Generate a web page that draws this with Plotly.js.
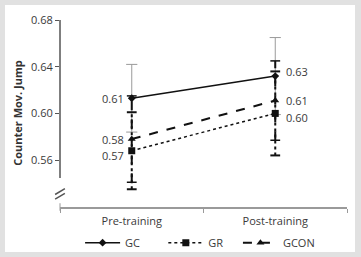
<!DOCTYPE html>
<html>
<head>
<meta charset="utf-8">
<script src="https://cdn.plot.ly/plotly-3.0.1.min.js"></script>
<style>
  html, body { margin: 0; padding: 0; background: #e1e1e1; width: 361px; height: 257px; overflow: hidden; }
  #frame { position: absolute; left: 5px; top: 5px; width: 350px; height: 247px; background: #ffffff; }
  #chart { width: 350px; height: 247px; }
</style>
</head>
<body>
<div id="frame"><div id="chart"></div></div>
<script>
// Counter movement jump, group means and SDs before and after training
const phases = ['Pre-training', 'Post-training'];

const gcMean   = [0.613, 0.632];
const gcSd     = [0.029, 0.033];
const grMean   = [0.568, 0.600];
const grSd     = [0.033, 0.036];
const gconMean = [0.578, 0.611];
const gconSd   = [0.037, 0.034];

const yTicks = [0.56, 0.60, 0.64, 0.68];

const FONT = 'Open Sans, Noto Sans, sans-serif';
const TXT = '#3a3a3a';

// vertical SD whiskers as one broken line per series
function whisker(mean, sd, color, width, dash) {
  const x = [], y = [];
  phases.forEach((p, i) => { x.push(p, p, null); y.push(mean[i] - sd[i], mean[i] + sd[i], null); });
  return { x, y, mode: 'lines', line: { color, width, dash }, hoverinfo: 'skip', showlegend: false };
}
function caps(mean, sd, color, size, width) {
  const x = [], y = [];
  phases.forEach((p, i) => { x.push(p, p); y.push(mean[i] - sd[i], mean[i] + sd[i]); });
  return { x, y, mode: 'markers', marker: { symbol: 'line-ew', size, color, line: { color, width } },
           hoverinfo: 'skip', showlegend: false };
}
function series(name, mean, dash, width, symbol, msize, legendId) {
  return { x: phases, y: mean, name, mode: 'lines+markers',
           line: { color: '#111111', width, dash },
           marker: { symbol, size: msize, color: '#111111' },
           legend: legendId };
}
// value labels: left of the pre-training point, right of the post-training point
function valueLabels(mean, yshift) {
  return phases.map((p, i) => ({
    x: p, y: mean[i], xref: 'x', yref: 'y', showarrow: false,
    text: mean[i].toFixed(2),
    xanchor: i === 0 ? 'right' : 'left',
    xshift: i === 0 ? -6 : 9, yshift: yshift[i],
    font: { family: FONT, size: 11, color: TXT }
  }));
}

const data = [
  whisker(gcMean, gcSd, '#9a9a9a', 1, 'solid'),
  caps(gcMean, gcSd, '#9a9a9a', 8, 1),
  whisker(grMean, grSd, '#111111', 2, 'dot'),
  caps(grMean, grSd, '#111111', 7, 2),
  whisker(gconMean, gconSd, '#111111', 2, 'dash'),
  caps(gconMean, gconSd, '#111111', 7, 1.5),
  series('GC', gcMean, 'solid', 1.6, 'diamond', 6, 'legend'),
  series('GR', grMean, 'dot', 1.5, 'square', 7, 'legend2'),
  series('GCON', gconMean, 'dash', 2, 'triangle-up', 7, 'legend3')
];

const legendBase = { orientation: 'h', yanchor: 'middle', y: -0.19, xanchor: 'left', itemwidth: 35,
                     font: { family: FONT, size: 11, color: TXT }, bgcolor: 'rgba(0,0,0,0)' };

const layout = {
  width: 350, height: 247,
  margin: { l: 55, r: 8, t: 14, b: 45, autoexpand: false },
  paper_bgcolor: '#ffffff', plot_bgcolor: '#ffffff',
  font: { family: FONT, size: 11, color: TXT },
  xaxis: {
    type: 'category', range: [-0.5, 1.5], showgrid: false, zeroline: false,
    showline: true, linecolor: '#9a9a9a', linewidth: 2,
    ticks: 'outside', tickson: 'boundaries', ticklen: 4, tickcolor: '#9a9a9a', tickwidth: 1,
    ticklabelstandoff: 3,
    tickfont: { family: FONT, size: 11, color: TXT }
  },
  yaxis: {
    range: [0.5198, 0.6809], showgrid: false, zeroline: false, showline: false,
    tickvals: yTicks, tickformat: '.2f',
    ticks: 'outside', ticklen: 4, tickcolor: '#555555', tickwidth: 1,
    tickfont: { family: FONT, size: 11, color: TXT },
    title: { text: '<b>Counter Mov. Jump</b>', font: { family: FONT, size: 11, color: '#333333' }, standoff: 6 }
  },
  annotations: [].concat(
    valueLabels(gcMean, [0, 5]),
    valueLabels(grMean, [-5, -4]),
    valueLabels(gconMean, [0, 0])
  ),
  shapes: [
    // broken y axis
    { type: 'line', xref: 'paper', yref: 'y', x0: 0, x1: 0, y0: 0.5447, y1: 0.68,
      line: { color: '#555555', width: 1.5 } },
    { type: 'line', xref: 'paper', yref: 'y', x0: -0.017, x1: 0.017, y0: 0.5305, y1: 0.5355,
      line: { color: '#555555', width: 1.5 } },
    { type: 'line', xref: 'paper', yref: 'y', x0: -0.017, x1: 0.017, y0: 0.5265, y1: 0.5315,
      line: { color: '#555555', width: 1.5 } },
    { type: 'line', xref: 'paper', yref: 'paper', x0: 0, x1: 0, y0: -0.02, y1: 0.02,
      line: { color: '#9a9a9a', width: 1 } }
  ],
  legend: Object.assign({}, legendBase, { x: 0.07 }),
  legend2: Object.assign({}, legendBase, { x: 0.36 }),
  legend3: Object.assign({}, legendBase, { x: 0.62 }),
  showlegend: true
};

Plotly.newPlot('chart', data, layout, { displayModeBar: false, staticPlot: true });
</script>
</body>
</html>
